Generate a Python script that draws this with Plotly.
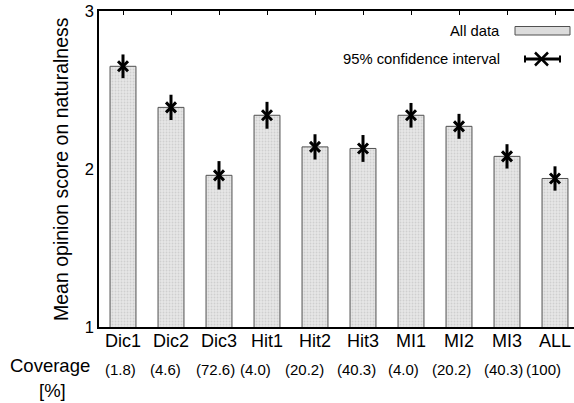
import plotly.graph_objects as go

categories = ["Dic1", "Dic2", "Dic3", "Hit1", "Hit2", "Hit3", "MI1", "MI2", "MI3", "ALL"]
mean_scores = [2.65, 2.39, 1.96, 2.34, 2.14, 2.13, 2.34, 2.27, 2.08, 1.94]
ci95 = [0.075, 0.08, 0.09, 0.085, 0.08, 0.085, 0.078, 0.079, 0.077, 0.077]
coverage = ["(1.8)", "(4.6)", "(72.6)", "(4.0)", "(20.2)", "(40.3)", "(4.0)", "(20.2)", "(40.3)", "(100)"]
y_ticks = [1, 2, 3]

# layout-only placement of coverage labels (category units)
cov_x = [-0.05, 0.88, 1.93, 2.75, 3.78, 4.86, 5.84, 6.85, 7.93, 8.76]

FONT = "Liberation Sans, Arial, Helvetica, sans-serif"

W, H = 574, 403
L, R, T, B = 99, 0, 11, 76
pw, ph = W - L - R, H - T - B

def px(x):
    return (x - L) / pw

def py(y):
    return (H - B - y) / ph

fig = go.Figure()
fig.add_trace(go.Bar(
    x=categories, y=mean_scores, width=0.54,
    base=0,
    marker=dict(color="#dcdcdc", line=dict(color="#505050", width=1),
                pattern=dict(shape=".", fgcolor="#b8b8b8", bgcolor="#e6e6e6", size=3, solidity=0.3)),
    showlegend=False, hoverinfo="skip",
))
fig.add_trace(go.Scatter(
    x=categories, y=mean_scores, mode="markers",
    marker=dict(symbol="x-thin", size=10, color="black", line=dict(color="black", width=3)),
    error_y=dict(type="data", array=ci95, color="black", thickness=3, width=0),
    showlegend=False, hoverinfo="skip",
))
# invisible trace to activate top tick axis
fig.add_trace(go.Scatter(x=categories, y=mean_scores, xaxis="x2", mode="markers",
                         marker=dict(opacity=0), showlegend=False, hoverinfo="skip"))

xr = [-0.5, -0.5 + pw / 48.0]
fig.update_layout(
    width=W, height=H,
    margin=dict(l=L, r=R, t=T, b=B),
    paper_bgcolor="white", plot_bgcolor="white",
    font=dict(family=FONT, color="black"),
    showlegend=False,
    xaxis=dict(type="category", range=xr, showline=True, linecolor="black", linewidth=1.5,
               mirror=True, ticks="", showgrid=False, zeroline=False, ticklabelstandoff=-3,
               tickfont=dict(size=18, family=FONT, color="black")),
    xaxis2=dict(type="category", range=xr, overlaying="x", side="top", ticks="inside",
                ticklen=4, tickwidth=1, tickcolor="black", showticklabels=False,
                showline=False, showgrid=False, zeroline=False),
    yaxis=dict(range=[1, 3], tickvals=y_ticks, ticktext=[str(v) for v in y_ticks],
               showline=True, linecolor="black", linewidth=1.5, mirror=False,
               ticks="", showgrid=False, zeroline=False,
               tickfont=dict(size=16.5, family=FONT, color="black")),
)

ann = []
ann.append(dict(text="Mean opinion score on naturalness", textangle=-90, xref="paper", yref="paper",
                x=px(61), y=0.5, xanchor="center", yanchor="middle", showarrow=False,
                font=dict(size=19.5, family=FONT, color="black")))
for xv, lab in zip(cov_x, coverage):
    ann.append(dict(text=lab, xref="x", yref="paper", x=xv, y=py(369), xanchor="center",
                    yanchor="middle", showarrow=False, font=dict(size=15, family=FONT, color="black")))
ann.append(dict(text="Coverage", xref="paper", yref="paper", x=px(50), y=py(365),
                xanchor="center", yanchor="middle", showarrow=False,
                font=dict(size=18.5, family=FONT, color="black")))
ann.append(dict(text="[%]", xref="paper", yref="paper", x=px(52), y=py(390),
                xanchor="center", yanchor="middle", showarrow=False,
                font=dict(size=18.5, family=FONT, color="black")))
# legend texts
ann.append(dict(text="All data", xref="paper", yref="paper", x=px(502), y=py(31), xanchor="right",
                yanchor="middle", showarrow=False, font=dict(size=14.8, family=FONT, color="black")))
ann.append(dict(text="95% confidence interval", xref="paper", yref="paper", x=px(502), y=py(59),
                xanchor="right", yanchor="middle", showarrow=False,
                font=dict(size=14.8, family=FONT, color="black")))
fig.update_layout(annotations=ann)

shapes = []
shapes.append(dict(type="rect", xref="paper", yref="paper", x0=px(515), x1=px(570), y0=py(35), y1=py(26.5),
                   fillcolor="#dcdcdc", line=dict(color="#505050", width=1)))
shapes.append(dict(type="line", xref="paper", yref="paper", x0=px(525), x1=px(560), y0=py(59), y1=py(59),
                   line=dict(color="black", width=3)))
for xc in (525, 560):
    shapes.append(dict(type="line", xref="paper", yref="paper", x0=px(xc), x1=px(xc), y0=py(55.5), y1=py(62.5),
                       line=dict(color="black", width=2)))
shapes.append(dict(type="line", xref="paper", yref="paper", x0=px(535), x1=px(548), y0=py(52.5), y1=py(65.5),
                   line=dict(color="black", width=2.5)))
shapes.append(dict(type="line", xref="paper", yref="paper", x0=px(535), x1=px(548), y0=py(65.5), y1=py(52.5),
                   line=dict(color="black", width=2.5)))
fig.update_layout(shapes=shapes)

fig.write_html("out.html", config={"displayModeBar": False},
               post_script="document.body.style.margin='0';document.body.style.padding='0';document.body.style.overflow='hidden';")
